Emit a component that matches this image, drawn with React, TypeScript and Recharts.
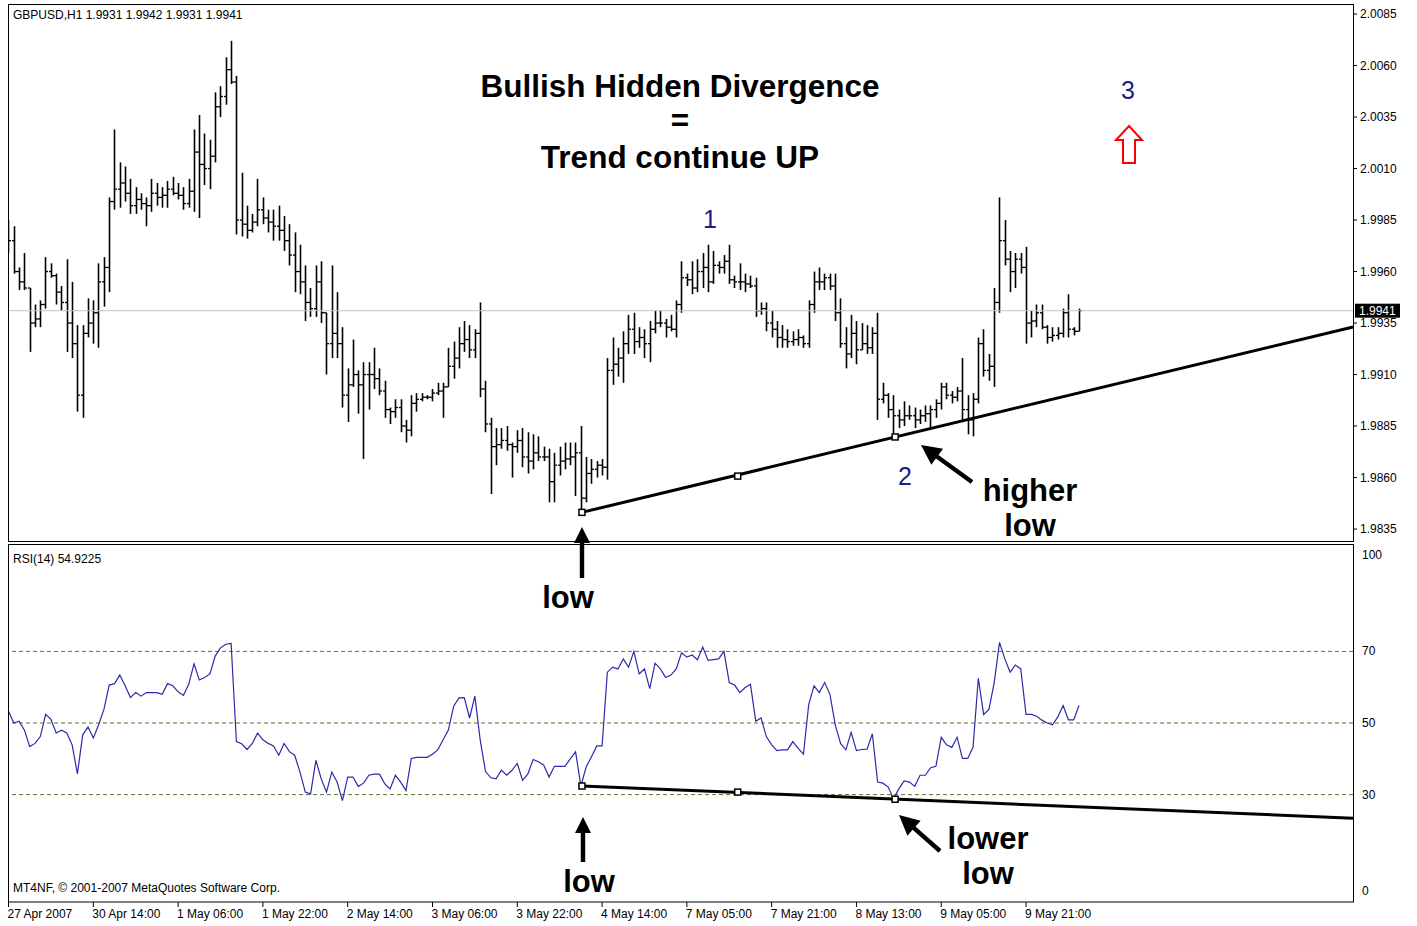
import React from 'react'
import {
  Bar,
  ComposedChart,
  Line,
  ReferenceDot,
  ReferenceLine,
  XAxis,
  YAxis,
} from 'recharts'

// GBPUSD H1, prices kept as pips above 1.9000
const HIGH_PIPS = [
  985, 982, 962, 969, 952, 944, 946, 967, 964, 959,
  953, 966, 955, 934, 934, 947, 946, 964, 967, 996,
  1029, 1013, 1011, 1005, 1001, 998, 996, 1005, 1003, 1001,
  1004, 1006, 1003, 1001, 1005, 1029, 1036, 1027, 1024, 1047,
  1050, 1064, 1072, 1055, 1008, 992, 988, 1005, 996, 990,
  990, 992, 987, 983, 979, 973, 963, 952, 963, 965,
  940, 963, 950, 933, 913, 927, 912, 916, 916, 923,
  913, 907, 894, 898, 898, 888, 900, 901, 901, 900,
  903, 906, 906, 923, 926, 933, 936, 934, 932, 945,
  907, 889, 884, 884, 885, 877, 883, 884, 882, 881,
  880, 875, 874, 872, 875, 877, 877, 877, 885, 870,
  869, 868, 869, 918, 928, 923, 931, 939, 940, 933,
  932, 936, 941, 941, 937, 939, 946, 965, 959, 965,
  966, 969, 973, 970, 965, 968, 973, 958, 964, 959,
  958, 957, 945, 945, 941, 936, 934, 932, 931, 932,
  929, 946, 960, 962, 959, 959, 959, 947, 933, 939,
  936, 935, 934, 933, 940, 906, 901, 900, 893, 897,
  895, 894, 893, 895, 895, 898, 906, 906, 902, 904,
  918, 900, 901, 928, 932, 920, 952, 996, 985, 970,
  969, 969, 972, 941, 944, 944, 934, 933, 933, 942,
  949, 933, 942,
]

const LOW_PIPS = [
  969, 959, 951, 951, 921, 933, 933, 942, 957, 944,
  941, 921, 918, 892, 889, 928, 925, 923, 943, 950,
  990, 991, 994, 988, 988, 990, 982, 989, 992, 991,
  991, 997, 995, 990, 991, 989, 986, 1002, 1000, 1013,
  1035, 1041, 1051, 978, 977, 976, 979, 982, 983, 979,
  975, 975, 970, 963, 950, 949, 936, 938, 938, 935,
  910, 918, 918, 894, 887, 904, 891, 869, 893, 903,
  900, 889, 886, 889, 882, 877, 880, 892, 897, 898,
  897, 900, 889, 904, 908, 913, 921, 918, 918, 899,
  882, 852, 866, 874, 873, 860, 872, 865, 862, 864,
  868, 868, 848, 848, 861, 864, 866, 851, 843, 848,
  857, 860, 861, 859, 905, 909, 906, 920, 920, 923,
  918, 916, 930, 933, 928, 931, 928, 940, 953, 949,
  950, 952, 950, 954, 959, 959, 954, 952, 951, 950,
  952, 938, 939, 931, 928, 923, 923, 923, 924, 924,
  923, 923, 940, 951, 951, 951, 936, 923, 913, 918,
  915, 922, 920, 920, 888, 896, 889, 880, 884, 885,
  888, 884, 886, 887, 884, 889, 893, 898, 896, 897,
  888, 881, 880, 896, 909, 907, 904, 940, 963, 950,
  952, 959, 925, 928, 933, 932, 925, 926, 927, 928,
  928, 929, 931,
]

const OPEN_PIPS = [
  980, 975, 960, 955, 952, 935, 937, 944, 960, 958,
  950, 945, 935, 925, 900, 930, 935, 940, 955, 962,
  994, 1000, 1003, 998, 992, 995, 993, 992, 998, 996,
  997, 1000, 998, 997, 993, 999, 1018, 1012, 1010, 1016,
  1040, 1045, 1058, 1052, 985, 983, 980, 984, 990, 986,
  984, 982, 980, 975, 968, 960, 955, 945, 942, 955,
  940, 925, 930, 925, 900, 905, 910, 905, 910, 910,
  908, 902, 893, 892, 894, 885, 883, 896, 898, 899,
  899, 901, 902, 904, 914, 918, 925, 927, 922, 930,
  903, 886, 875, 876, 878, 876, 875, 878, 870, 868,
  872, 870, 870, 858, 866, 868, 869, 870, 872, 850,
  862, 864, 866, 865, 912, 915, 918, 925, 932, 926,
  928, 925, 932, 935, 935, 933, 932, 944, 957, 956,
  952, 960, 962, 955, 963, 962, 965, 956, 955, 955,
  954, 953, 941, 942, 935, 932, 928, 927, 926, 927,
  928, 925, 944, 955, 955, 957, 953, 940, 925, 920,
  930, 922, 925, 923, 930, 898, 900, 893, 890, 888,
  890, 890, 888, 890, 891, 893, 896, 904, 900, 899,
  902, 893, 888, 898, 925, 912, 914, 945, 975, 966,
  960, 966, 962, 935, 936, 940, 933, 928, 929, 930,
  940, 932, 931,
]

const CLOSE_PIPS = [
  975, 960, 955, 952, 935, 937, 944, 960, 958, 950,
  945, 935, 925, 900, 930, 935, 940, 955, 962, 994,
  1000, 1003, 998, 992, 995, 993, 992, 998, 996, 997,
  1000, 998, 997, 993, 999, 1018, 1012, 1010, 1016, 1040,
  1045, 1058, 1052, 985, 983, 980, 984, 990, 986, 984,
  982, 980, 975, 968, 960, 955, 945, 942, 955, 940,
  925, 930, 925, 900, 905, 910, 905, 910, 910, 908,
  902, 893, 892, 894, 885, 883, 896, 898, 899, 899,
  901, 902, 904, 914, 918, 925, 927, 922, 930, 903,
  886, 875, 876, 878, 876, 875, 878, 870, 868, 872,
  870, 870, 858, 866, 868, 869, 870, 872, 850, 862,
  864, 866, 865, 912, 915, 918, 925, 932, 926, 928,
  925, 932, 935, 935, 933, 932, 944, 957, 956, 952,
  960, 962, 955, 963, 962, 965, 956, 955, 955, 954,
  953, 941, 942, 935, 932, 928, 927, 926, 927, 928,
  925, 944, 955, 955, 957, 953, 940, 925, 920, 930,
  922, 925, 923, 930, 898, 900, 893, 890, 888, 890,
  890, 888, 890, 891, 893, 896, 904, 900, 899, 902,
  893, 888, 898, 925, 912, 914, 945, 975, 966, 960,
  966, 962, 935, 936, 940, 933, 928, 929, 930, 940,
  932, 931, 941,
]

const RSI = [
  53.3, 50, 50.5, 48, 43.4, 44.3, 46.2, 52.4, 51, 47.2,
  48, 47.2, 43.9, 35.8, 46.7, 48.9, 45.8, 49.5, 53.8, 60.6,
  61, 63.4, 60.4, 57.1, 58.5, 57.5, 58.5, 58.5, 58.5, 58,
  61, 60.4, 58.7, 57.7, 60.8, 66.5, 62, 62.7, 63.7, 68.7,
  71, 72, 72.2, 44.8, 44.2, 42.6, 44.3, 47.2, 45.3, 44.3,
  43.6, 41, 44.3, 42, 41, 36.3, 30.7, 30.2, 39.6, 34.4,
  30.7, 36.3, 33.5, 28.3, 34.9, 34.9, 32.3, 33.2, 35.4, 35.7,
  35.7, 33, 31.6, 35.4, 33.5, 31.1, 40.1, 40.4, 40.4, 40.4,
  41.3, 42.5, 45.3, 48, 54.7, 57, 57.1, 51.4, 57.5, 45.3,
  36.5, 34.7, 34.4, 36.8, 35.4, 36.8, 38.7, 34, 35.8, 39.8,
  39.2, 38.2, 34.9, 37.9, 37.9, 37.9, 40, 42, 32.4, 37.7,
  40.6, 43.6, 43.6, 64.2, 65.6, 65.1, 67.9, 65.6, 70, 63.7,
  65.1, 59.6, 66.7, 65.1, 62.7, 63.4, 65.1, 69.6, 68.4, 69,
  67.7, 71.2, 67.5, 67.7, 67.9, 70, 61.3, 60.6, 58.5, 59.9,
  60.8, 50.5, 51.4, 46.2, 43.9, 42.3, 42.5, 42.5, 44.8, 42.9,
  41.3, 55.2, 60.4, 58.5, 61.3, 58, 49.5, 44.3, 42.5, 47.4,
  42.3, 42.6, 42.7, 47, 33.5, 33.2, 32.1, 28.8, 31.6, 33.8,
  33.5, 32.3, 35.4, 35.4, 37.5, 37.9, 46, 43.9, 43.2, 46,
  40.1, 40.1, 43.2, 62.5, 52.4, 53.8, 61.3, 72.5, 67.9, 64.2,
  66.2, 65.1, 52.4, 52.4, 51.9, 50.8, 50, 49.5, 51.7, 54.9,
  50.9, 50.9, 54.92,
]

const TIME_LABELS = [
  '27 Apr 2007', '30 Apr 14:00', '1 May 06:00', '1 May 22:00', '2 May 14:00',
  '3 May 06:00', '3 May 22:00', '4 May 14:00', '7 May 05:00', '7 May 21:00',
  '8 May 13:00', '9 May 05:00', '9 May 21:00',
]
const TIME_TICK_BARS = [0, 16, 32, 48, 64, 80, 96, 112, 128, 144, 160, 176, 192]

const PRICE_TICKS = [1.9835, 1.986, 1.9885, 1.991, 1.9935, 1.996, 1.9985, 2.001, 2.0035, 2.006, 2.0085]
const RSI_TICKS = [0, 30, 50, 70, 100]
const RSI_LEVELS = [30, 50, 70]

// trendline anchors: bar index + value
const PRICE_TREND = [
  { i: 108.2, v: 1.98431 },
  { i: 137.6, v: 1.98607 },
  { i: 167.3, v: 1.98797 },
  { i: 253.7, v: 1.99331 },
]
const RSI_TREND = [
  { i: 108.2, v: 32.4 },
  { i: 137.6, v: 30.7 },
  { i: 167.3, v: 28.7 },
  { i: 253.7, v: 23.4 },
]

const X_DOMAIN: [number, number] = [-0.1, 253.7]
const PRICE_DOMAIN: [number, number] = [1.98292, 2.00894]
const FONT = '"Liberation Sans", Arial, sans-serif'
const SMALL = 12

const toPrice = (p: number) => 1.9 + p / 10000

const priceData = HIGH_PIPS.map((h, i) => ({
  i,
  range: [toPrice(LOW_PIPS[i]), toPrice(h)],
  high: toPrice(h),
  low: toPrice(LOW_PIPS[i]),
  open: toPrice(OPEN_PIPS[i]),
  close: toPrice(CLOSE_PIPS[i]),
}))
const rsiData = RSI.map((rsi, i) => ({ i, rsi }))
const lastClose = priceData[priceData.length - 1].close

const OhlcShape = (props: any) => {
  const { x, y, width, height, payload } = props
  if (x == null || y == null || !payload) return null
  const cx = Math.round(x + width / 2) + 0.5
  const top = Math.min(y, y + height)
  const bottom = Math.max(y, y + height)
  const span = payload.high - payload.low || 1
  const clamp = (p: number) => Math.min(payload.high, Math.max(payload.low, p))
  const toY = (p: number) => top + ((payload.high - clamp(p)) / span) * (bottom - top)
  return (
    <g stroke="#000" strokeWidth={1.6}>
      <line x1={cx} x2={cx} y1={top} y2={bottom} />
      <line x1={cx - 2.5} x2={cx} y1={toY(payload.open)} y2={toY(payload.open)} strokeWidth={1.3} />
      <line x1={cx} x2={cx + 2.5} y1={toY(payload.close)} y2={toY(payload.close)} strokeWidth={1.3} />
    </g>
  )
}

const Square = (props: any) => {
  const { cx, cy } = props
  if (cx == null || cy == null) return null
  return <rect x={cx - 3} y={cy - 3} width={6} height={6} fill="#fff" stroke="#000" strokeWidth={1.5} />
}

const PriceTag = (props: any) => {
  const vb = props.viewBox
  if (!vb) return null
  const x = vb.x + vb.width + 2
  return (
    <g>
      <rect x={x} y={vb.y - 7} width={45} height={14} fill="#000" />
      <text x={x + 4} y={vb.y + 4} fill="#fff" fontSize={SMALL} fontFamily={FONT}>
        {lastClose.toFixed(4)}
      </text>
    </g>
  )
}

const TimeTick = (props: any) => {
  const { x, y, payload } = props
  const idx = TIME_TICK_BARS.indexOf(payload.value)
  return (
    <text x={x - 1} y={y + 10} textAnchor="start" fontSize={SMALL} fontFamily={FONT} fill="#000">
      {TIME_LABELS[idx] ?? ''}
    </text>
  )
}

const RsiTick = (props: any) => {
  const { x, y, payload } = props
  const shift = payload.value === 100 ? 11 : payload.value === 0 ? -11 : 0
  return (
    <text x={x} y={y + shift + 4} textAnchor="start" fontSize={SMALL} fontFamily={FONT} fill="#000">
      {payload.value}
    </text>
  )
}

// arrow from tail (x1,y1) to tip (x2,y2)
const Arrow = ({ x1, y1, x2, y2, head = 16, half = 8, shaft = 2.2 }: any) => {
  const a = Math.atan2(y2 - y1, x2 - x1)
  const c = Math.cos(a)
  const s = Math.sin(a)
  const bx = x2 - head * c
  const by = y2 - head * s
  const nx = -s
  const ny = c
  const pts = [
    [x1 + nx * shaft, y1 + ny * shaft],
    [bx + nx * shaft, by + ny * shaft],
    [bx + nx * half, by + ny * half],
    [x2, y2],
    [bx - nx * half, by - ny * half],
    [bx - nx * shaft, by - ny * shaft],
    [x1 - nx * shaft, y1 - ny * shaft],
  ]
  return <polygon points={pts.map((p) => p.join(',')).join(' ')} fill="#000" />
}

const bold = { fontFamily: FONT, fontWeight: 700, fill: '#000' } as const

export default function App() {
  return (
    <div style={{ position: 'absolute', left: 0, top: 0, width: 1417, height: 926, background: '#fff', fontFamily: FONT }}>
      <div style={{ position: 'absolute', left: 0, top: 0 }}>
        <ComposedChart width={1417} height={545} data={priceData} margin={{ top: 5, right: 0, bottom: 4, left: 8 }}>
          <XAxis dataKey="i" type="number" domain={X_DOMAIN} hide allowDataOverflow />
          <YAxis
            orientation="right"
            width={64}
            domain={PRICE_DOMAIN}
            ticks={PRICE_TICKS}
            allowDataOverflow
            tickFormatter={(v: number) => v.toFixed(4)}
            axisLine={false}
            tickLine={{ stroke: '#000' }}
            tickSize={4}
            tickMargin={3}
            tick={{ fill: '#000', fontSize: SMALL }}
          />
          <ReferenceLine y={lastClose} stroke="#c4c4c4" label={<PriceTag />} />
          <Bar dataKey="range" barSize={3} shape={<OhlcShape />} isAnimationActive={false} />
          <ReferenceLine
            segment={[
              { x: PRICE_TREND[0].i, y: PRICE_TREND[0].v },
              { x: PRICE_TREND[3].i, y: PRICE_TREND[3].v },
            ]}
            stroke="#000"
            strokeWidth={3}
          />
          {PRICE_TREND.slice(0, 3).map((p) => (
            <ReferenceDot key={p.i} x={p.i} y={p.v} shape={<Square />} />
          ))}
        </ComposedChart>
      </div>

      <div style={{ position: 'absolute', left: 0, top: 0 }}>
        <ComposedChart width={1417} height={926} data={rsiData} margin={{ top: 544, right: 0, bottom: 4, left: 8 }}>
          <XAxis
            dataKey="i"
            type="number"
            domain={X_DOMAIN}
            allowDataOverflow
            ticks={TIME_TICK_BARS}
            height={20}
            axisLine={false}
            tickLine={{ stroke: '#000' }}
            tickSize={5}
            tickMargin={1}
            tick={<TimeTick />}
            interval={0}
          />
          <YAxis
            orientation="right"
            width={64}
            domain={[0, 100]}
            ticks={RSI_TICKS}
            axisLine={false}
            tickLine={false}
            tickMargin={3}
            tick={<RsiTick />}
          />
          {RSI_LEVELS.map((lvl) => (
            <ReferenceLine key={lvl} y={lvl} stroke="#5e7330" strokeDasharray="4 3" />
          ))}
          <Line dataKey="rsi" type="linear" stroke="#2c2ca8" strokeWidth={1.2} dot={false} isAnimationActive={false} />
          <ReferenceLine
            segment={[
              { x: RSI_TREND[0].i, y: RSI_TREND[0].v },
              { x: RSI_TREND[3].i, y: RSI_TREND[3].v },
            ]}
            stroke="#000"
            strokeWidth={3}
          />
          {RSI_TREND.slice(0, 3).map((p) => (
            <ReferenceDot key={p.i} x={p.i} y={p.v} shape={<Square />} />
          ))}
        </ComposedChart>
      </div>

      <svg width={1417} height={926} style={{ position: 'absolute', left: 0, top: 0, pointerEvents: 'none' }}>
        {/* panel frames */}
        <rect x={8.5} y={4.5} width={1345} height={537} fill="none" stroke="#000" />
        <rect x={8.5} y={544.5} width={1345} height={357.5} fill="none" stroke="#000" />

        <text x={13} y={19} fontSize={SMALL} fontFamily={FONT}>GBPUSD,H1  1.9931 1.9942 1.9931 1.9941</text>
        <text x={13} y={563} fontSize={SMALL} fontFamily={FONT}>RSI(14) 54.9225</text>
        <text x={13} y={892} fontSize={SMALL} fontFamily={FONT}>MT4NF, © 2001-2007 MetaQuotes Software Corp.</text>

        <text x={680} y={97} textAnchor="middle" fontSize={31.5} {...bold}>Bullish Hidden Divergence</text>
        <text x={680} y={131} textAnchor="middle" fontSize={31.5} {...bold}>=</text>
        <text x={680} y={168} textAnchor="middle" fontSize={31.5} {...bold}>Trend continue UP</text>

        <text x={710} y={228} textAnchor="middle" fontSize={25} fontFamily={FONT} fill="#1c1c8c">1</text>
        <text x={905} y={485} textAnchor="middle" fontSize={25} fontFamily={FONT} fill="#1c1c8c">2</text>
        <text x={1128} y={99} textAnchor="middle" fontSize={25} fontFamily={FONT} fill="#1c1c8c">3</text>

        <polygon
          points="1129,126 1142,140 1135,140 1135,163 1123,163 1123,140 1116,140"
          fill="#fff"
          stroke="#f00"
          strokeWidth={2}
        />

        <Arrow x1={582} y1={578} x2={582} y2={527} />
        <text x={568} y={608} textAnchor="middle" fontSize={31} {...bold}>low</text>

        <Arrow x1={583} y1={862} x2={583} y2={817} />
        <text x={589} y={892} textAnchor="middle" fontSize={31} {...bold}>low</text>

        <Arrow x1={972} y1={482} x2={921} y2={445} head={20} half={10} />
        <text x={1030} y={501} textAnchor="middle" fontSize={31} {...bold}>higher</text>
        <text x={1030} y={536} textAnchor="middle" fontSize={31} {...bold}>low</text>

        <Arrow x1={940} y1={851} x2={899} y2={815} head={20} half={10} />
        <text x={988} y={849} textAnchor="middle" fontSize={31} {...bold}>lower</text>
        <text x={988} y={884} textAnchor="middle" fontSize={31} {...bold}>low</text>
      </svg>
    </div>
  )
}
